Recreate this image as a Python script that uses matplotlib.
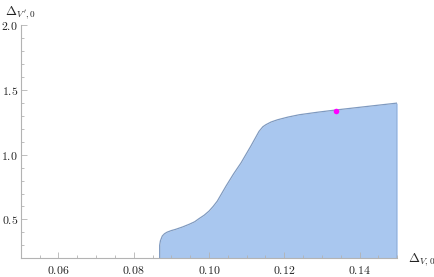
import numpy as np
import matplotlib
matplotlib.use("Agg")
from matplotlib import pyplot as plt
from matplotlib.ticker import MultipleLocator, FuncFormatter

# boundary of the allowed region (upper edge)
edge_x = [0.0869, 0.0869, 0.0871, 0.0876, 0.0882, 0.0889, 0.0900, 0.0911, 0.0930,
          0.0947, 0.0962, 0.0973, 0.0987, 0.1000, 0.1011, 0.1022, 0.1045, 0.1065,
          0.1085, 0.1111, 0.1133, 0.1143, 0.1151, 0.1165, 0.1182, 0.1210, 0.1240,
          0.1290, 0.1338, 0.1420, 0.1500]
edge_y = [0.20, 0.30, 0.335, 0.372, 0.39, 0.402, 0.414, 0.423, 0.442,
          0.462, 0.482, 0.505, 0.532, 0.564, 0.60, 0.641, 0.756, 0.850,
          0.936, 1.065, 1.180, 1.215, 1.231, 1.252, 1.269, 1.290, 1.308,
          1.328, 1.345, 1.372, 1.398]
y_floor = 0.2

point_x = [0.1338]
point_y = [1.333]

x_ticks = [0.06, 0.08, 0.10, 0.12, 0.14]
y_ticks = [0.5, 1.0, 1.5, 2.0]

plt.rcParams['mathtext.fontset'] = 'cm'

fig = plt.figure(figsize=(4.35, 2.77), dpi=100)
ax = fig.add_axes([0.0476, 0.0675, 0.8657, 0.842])

fill_c = '#a9c7ef'
edge_c = '#7f9ac0'

ax.fill_between(edge_x, y_floor, edge_y, color=fill_c, lw=0)
ax.plot(edge_x + [edge_x[-1]], edge_y + [y_floor], color=edge_c, lw=0.9,
        solid_joinstyle='round')
ax.plot(point_x, point_y, 'o', color='#ff00ff', ms=4, mec='none')

ax.set_xlim(0.05, 0.15)
ax.set_ylim(0.2, 2.0)

for s in ['top', 'right']:
    ax.spines[s].set_visible(False)
for s in ['left', 'bottom']:
    ax.spines[s].set_color('#b3b3b3')
    ax.spines[s].set_linewidth(0.8)

ax.set_xticks(x_ticks)
ax.set_yticks(y_ticks)
ax.xaxis.set_minor_locator(MultipleLocator(0.005))
ax.yaxis.set_minor_locator(MultipleLocator(0.1))
ax.xaxis.set_major_formatter(FuncFormatter(lambda v, p: '$%.2f$' % v))
ax.yaxis.set_major_formatter(FuncFormatter(lambda v, p: '$%.1f$' % v))
ax.tick_params(which='both', direction='in', color='#b3b3b3', width=0.6,
               labelsize=8.5, labelcolor='#222222')
ax.tick_params(which='major', length=4, pad=4)
ax.tick_params(which='minor', length=2)
ax.tick_params(axis='y', pad=2)

fig.text(0.012, 0.985, r"$\Delta_{V',0}$", ha='left', va='top',
         fontsize=9.5, color='#222222')
fig.text(0.938, 0.062, r"$\Delta_{V,0}$", ha='left', va='center',
         fontsize=9.5, color='#222222')

fig.savefig("out.png", dpi=100)
